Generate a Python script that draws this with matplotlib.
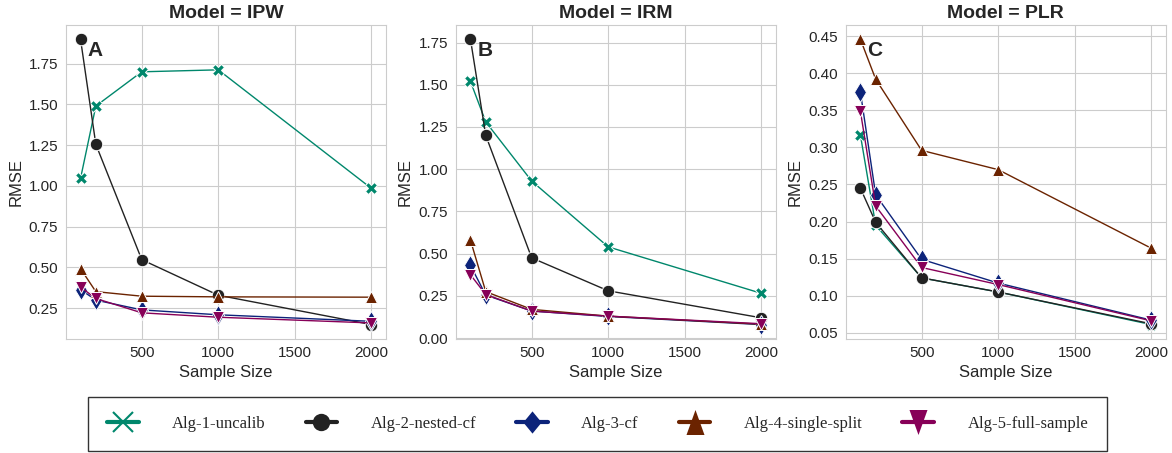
import numpy as np
import matplotlib
matplotlib.use("Agg")
import matplotlib.pyplot as plt
import seaborn as sns
from matplotlib.lines import Line2D

# ── Data ──────────────────────────────────────────────────────────────────────
SAMPLE_SIZES = [100, 200, 500, 1000, 2000]
MODELS = ['IPW', 'IRM', 'PLR']
PANEL_TAGS = ['A', 'B', 'C']
ALGS = ['Alg-1-uncalib', 'Alg-2-nested-cf', 'Alg-3-cf',
        'Alg-4-single-split', 'Alg-5-full-sample']

IPW_RMSE = [
    [1.046, 1.490, 1.700, 1.712, 0.985],
    [1.900, 1.255, 0.548, 0.330, 0.150],
    [0.365, 0.300, 0.240, 0.210, 0.170],
    [0.493, 0.352, 0.324, 0.320, 0.318],
    [0.380, 0.310, 0.222, 0.195, 0.160],
]
IRM_RMSE = [
    [1.520, 1.280, 0.930, 0.540, 0.265],
    [1.770, 1.200, 0.475, 0.280, 0.120],
    [0.430, 0.255, 0.160, 0.128, 0.080],
    [0.580, 0.275, 0.170, 0.130, 0.082],
    [0.375, 0.258, 0.160, 0.130, 0.085],
]
PLR_RMSE = [
    [0.317, 0.195, 0.124, 0.105, 0.061],
    [0.245, 0.199, 0.124, 0.105, 0.062],
    [0.375, 0.236, 0.149, 0.117, 0.067],
    [0.446, 0.392, 0.296, 0.270, 0.164],
    [0.349, 0.221, 0.138, 0.115, 0.066],
]
RMSE = {'IPW': IPW_RMSE, 'IRM': IRM_RMSE, 'PLR': PLR_RMSE}

# ── Styles ────────────────────────────────────────────────────────────────────
COLORS = ['#00876c', '#222222', '#0c237a', '#6b2300', '#870058']
MARKERS = ['X', 'o', 'd', '^', 'v']
MSIZES = [8.5, 9, 10, 8.5, 9]

# taller, narrower shapes for the legend keys
DIAMOND = [(0, 1), (0.82, 0), (0, -1), (-0.82, 0), (0, 1)]
TRI_UP = [(0, 1), (0.72, -1), (-0.72, -1), (0, 1)]
TRI_DOWN = [(0, -1), (0.72, 1), (-0.72, 1), (0, -1)]
LEGEND_MARKERS = ['x', 'o', DIAMOND, TRI_UP, TRI_DOWN]
LEGEND_MSIZES = [14, 12.5, 16, 18, 18]

sns.set_style('whitegrid')
plt.rcParams['font.family'] = ['Liberation Sans', 'DejaVu Sans']

fig = plt.figure(figsize=(11.72, 4.53), dpi=100)
lefts = [0.0563, 0.389, 0.7217]
axes = [fig.add_axes([l, 0.252, 0.273, 0.693]) for l in lefts]

for ax, model, tag in zip(axes, MODELS, PANEL_TAGS):
    for i, alg in enumerate(ALGS):
        ax.plot(SAMPLE_SIZES, RMSE[model][i], color=COLORS[i], lw=1.0,
                marker=MARKERS[i], markersize=MSIZES[i],
                markeredgecolor='white', markeredgewidth=0.7, label=alg)
    ax.set_title(f'Model = {model}', fontsize=14, fontweight='bold',
                 color='#262626', pad=5)
    ax.set_xlabel('Sample Size', fontsize=12, color='#262626', labelpad=3)
    ax.set_ylabel('RMSE', fontsize=12, color='#262626', labelpad=4)
    ax.set_xticks([500, 1000, 1500, 2000])
    ax.tick_params(labelsize=11, colors='#262626', pad=2)
    ax.text(0.09, 0.92, tag, transform=ax.transAxes, fontsize=15,
            fontweight='bold', color='#262626', ha='center', va='center')

axes[1].set_yticks(np.arange(0, 1.76, 0.25))
axes[2].set_yticks(np.arange(0.05, 0.451, 0.05))

# Legend along the bottom, serif text
handles = [Line2D([], [], color=c, lw=3, marker=m, markersize=s,
                  markeredgewidth=1.5 if m == 'x' else 0.0, markeredgecolor=c)
           for c, m, s in zip(COLORS, LEGEND_MARKERS, LEGEND_MSIZES)]
leg = fig.legend(handles, ALGS, loc='lower left', ncol=5,
                 bbox_to_anchor=(0.0735, 0.0), borderaxespad=0.1,
                 prop={'family': 'Liberation Serif', 'size': 12},
                 frameon=True, fancybox=False, edgecolor='black',
                 handlelength=1.9, handletextpad=2.0, columnspacing=2.4,
                 borderpad=1.15)
leg.get_frame().set_linewidth(1.0)

fig.savefig('out.png', dpi=100)
